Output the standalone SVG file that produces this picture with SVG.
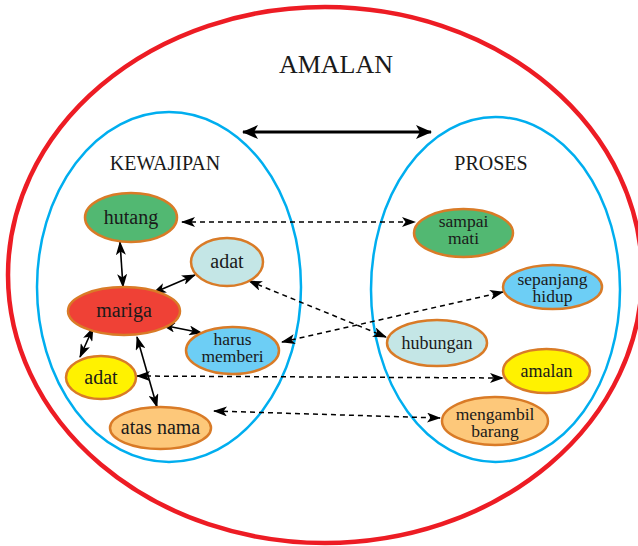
<svg xmlns="http://www.w3.org/2000/svg" width="638" height="546" viewBox="0 0 638 546">
<style>
  .t { font-family: "Liberation Serif", "Times New Roman", serif; fill: #1a1a1a; text-anchor: middle; }
  .big { font-size: 26px; }
  .hdr { font-size: 20px; }
  .n20 { font-size: 20px; }
  .n18 { font-size: 18px; }
  .n17 { font-size: 17.5px; }
  .node { stroke: #d97b27; stroke-width: 2.5; }
  .blue { fill: none; stroke: #00aeef; stroke-width: 2.5; }
  .solid { stroke: #000; stroke-width: 1.6; fill: none; marker-start: url(#ah); marker-end: url(#ah); }
  .dash { stroke: #000; stroke-width: 1.5; fill: none; stroke-dasharray: 5 4; marker-start: url(#ah); marker-end: url(#ah); }
  .main { stroke: #000; stroke-width: 3; fill: none; marker-start: url(#ahBig); marker-end: url(#ahBig); }
</style>
<defs>
  <marker id="ah" markerUnits="userSpaceOnUse" markerWidth="14" markerHeight="10" refX="13" refY="5" orient="auto-start-reverse" viewBox="0 0 14 10">
    <path d="M0,0 L14,5 L0,10 L3.5,5 z" fill="#000"/>
  </marker>
  <marker id="ahBig" markerUnits="userSpaceOnUse" markerWidth="16" markerHeight="14" refX="15" refY="7" orient="auto-start-reverse" viewBox="0 0 16 14">
    <path d="M0,0 L16,7 L0,14 L4,7 z" fill="#000"/>
  </marker>
</defs>

<g id="containers">
  <ellipse id="amalan-outer" cx="325" cy="275" rx="317" ry="268" fill="none" stroke="#ed1c24" stroke-width="4.5"/>
  <ellipse id="kewajipan-set" class="blue" cx="169" cy="287" rx="132" ry="175"/>
  <ellipse id="proses-set" class="blue" cx="495.5" cy="289.5" rx="124.5" ry="172.5"/>
  <text class="t big" x="336" y="73">AMALAN</text>
  <text class="t hdr" x="165" y="170">KEWAJIPAN</text>
  <text class="t hdr" x="491" y="170">PROSES</text>
</g>

<g id="connectors">
  <line class="main" x1="243" y1="132" x2="431" y2="132"/>
  <line class="solid" x1="120" y1="242" x2="123" y2="287"/>
  <line class="solid" x1="153" y1="293" x2="195" y2="275"/>
  <line class="solid" x1="162" y1="325" x2="202" y2="333"/>
  <line class="solid" x1="93" y1="328" x2="80" y2="357"/>
  <line class="solid" x1="137" y1="337" x2="157" y2="407"/>
  <line class="dash" x1="182" y1="222" x2="415" y2="222"/>
  <line class="dash" x1="249" y1="281" x2="386" y2="337"/>
  <line class="dash" x1="282" y1="342" x2="503" y2="292"/>
  <line class="dash" x1="137" y1="376" x2="503" y2="378"/>
  <line class="dash" x1="214" y1="411" x2="440" y2="418"/>
</g>

<g id="hutang">
  <ellipse class="node" cx="131" cy="217.5" rx="46" ry="24.5" fill="#52b872"/>
  <text class="t n20" x="131" y="224">hutang</text>
</g>
<g id="adat-top">
  <ellipse class="node" cx="227" cy="262" rx="36" ry="24" fill="#c4e6e6"/>
  <text class="t n20" x="227" y="268">adat</text>
</g>
<g id="mariga">
  <ellipse class="node" cx="124" cy="311" rx="56" ry="24" fill="#ef4136"/>
  <text class="t n20" x="124" y="317">mariga</text>
</g>
<g id="harus-memberi">
  <ellipse class="node" cx="232.5" cy="350.5" rx="46.5" ry="23.5" fill="#6dcef5"/>
  <text class="t n17" x="232.5" y="345">harus</text>
  <text class="t n17" x="232.5" y="362">memberi</text>
</g>
<g id="adat-yellow">
  <ellipse class="node" cx="101" cy="377.5" rx="35" ry="21.5" fill="#fff200"/>
  <text class="t n20" x="101" y="384">adat</text>
</g>
<g id="atas-nama">
  <ellipse class="node" cx="160.5" cy="428" rx="50.5" ry="21" fill="#fdc87a"/>
  <text class="t n20" x="160.5" y="434">atas nama</text>
</g>
<g id="sampai-mati">
  <ellipse class="node" cx="463.5" cy="233" rx="49.5" ry="24" fill="#52b872"/>
  <text class="t n17" x="463.5" y="227">sampai</text>
  <text class="t n17" x="463.5" y="244">mati</text>
</g>
<g id="sepanjang-hidup">
  <ellipse class="node" cx="552.5" cy="287" rx="49.5" ry="22" fill="#6dcef5"/>
  <text class="t n17" x="552.5" y="285">sepanjang</text>
  <text class="t n17" x="552.5" y="302">hidup</text>
</g>
<g id="hubungan">
  <ellipse class="node" cx="437" cy="343" rx="50" ry="23" fill="#c4e6e6"/>
  <text class="t n18" x="437" y="349">hubungan</text>
</g>
<g id="amalan">
  <ellipse class="node" cx="546.5" cy="371" rx="43.5" ry="22" fill="#fff200"/>
  <text class="t n18" x="546.5" y="377">amalan</text>
</g>
<g id="mengambil-barang">
  <ellipse class="node" cx="495" cy="421" rx="53" ry="24" fill="#fdc87a"/>
  <text class="t n17" x="495" y="420">mengambil</text>
  <text class="t n17" x="495" y="437">barang</text>
</g>
</svg>
